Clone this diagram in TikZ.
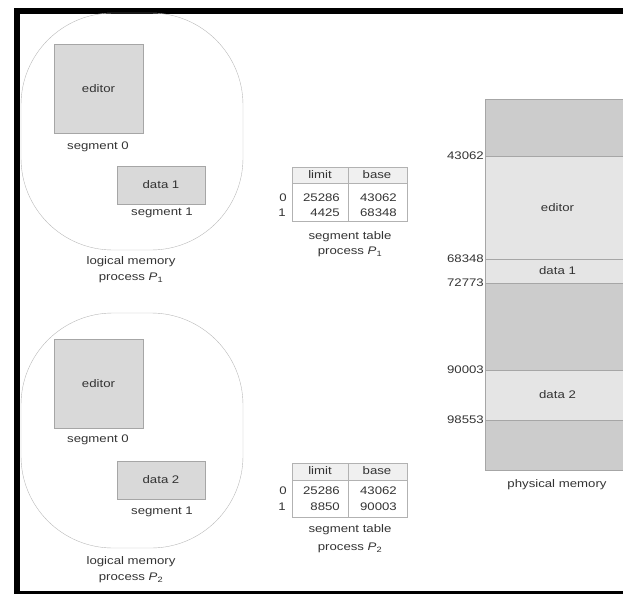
\documentclass[tikz,border=0pt]{standalone}
\usepackage{fontspec}
\setmainfont{Liberation Sans}[FakeStretch=1.2]
\usepackage{tikz}
\usetikzlibrary{positioning}

\tikzset{
  lbl/.style={font=\fontsize{11}{13}\selectfont, text=black!80, inner sep=1pt},
  seg/.style={lbl, draw=gray!70, fill=gray!30, inner sep=0pt},
  blob/.style={draw=gray!55, rounded corners=92pt},
  cell/.style={draw=gray!60},
  freemem/.style={lbl, draw=gray!70, fill=gray!40, minimum width=145, outer sep=0pt},
  usedmem/.style={lbl, draw=gray!70, fill=gray!20, minimum width=145, outer sep=0pt},
}

\begin{document}
\begin{tikzpicture}[x=1pt,y=-1pt]
  \useasboundingbox (0,0) rectangle (623,594);
  % frame
  \fill (14,8) rectangle (623,14);
  \fill (14,8) rectangle (20,594);
  \fill (14,591) rectangle (623,594);

  % process P1
  \draw[blob] (21,13) rectangle (243,250);
  \node[seg, minimum width=89, minimum height=89] (ed1) at (98.5,88.5) {editor};
  \node[lbl] (s01) at (98,147) {segment 0};
  \node[seg, minimum width=88, minimum height=38] (dat1) at (161,185) {data 1};
  \node[lbl] (s11) at (162,213) {segment 1};
  \node[lbl] (lm1) at (131,262) {logical memory};
  \node[lbl] (pr1) at (131,278) {process \textit{P}\textsubscript{1}};

  \fill[gray!12] (292,167) rectangle (407,183);
  \draw[cell] (292,167) rectangle (407,221);
  \draw[cell] (292,183) -- (407,183);
  \draw[cell] (348,167) -- (348,221);
  \node[lbl] (lim1) at (320,175) {limit};
  \node[lbl] (bas1) at (377,175) {base};
  \node[lbl] at (283,198) {0};
  \node[lbl] at (282,213) {1};
  \node[lbl, anchor=east] at (341,198) {25286};
  \node[lbl, anchor=east] at (341,213) {4425};
  \node[lbl, anchor=east] at (398,198) {43062};
  \node[lbl, anchor=east] at (398,213) {68348};
  \node[lbl] (st1) at (350,237) {segment table};
  \node[lbl] (sp1) at (350,252) {process \textit{P}\textsubscript{1}};

  \begin{scope}[shift={(0,298)}]
    % process P2
    \draw[blob] (21,15) rectangle (243,250);
    \node[seg, minimum width=89, minimum height=89] (ed2) at (98.5,85.5) {editor};
    \node[lbl] (s02) at (98,142) {segment 0};
    \node[seg, minimum width=88, minimum height=38] (dat2) at (161,182) {data 2};
    \node[lbl] (s12) at (162,214) {segment 1};
    \node[lbl] (lm2) at (131,264) {logical memory};
    \node[lbl] (pr2) at (131,280) {process \textit{P}\textsubscript{2}};

    \fill[gray!12] (292,165) rectangle (407,182);
    \draw[cell] (292,165) rectangle (407,219);
    \draw[cell] (292,182) -- (407,182);
    \draw[cell] (348,165) -- (348,219);
    \node[lbl] (lim2) at (320,173) {limit};
    \node[lbl] (bas2) at (377,173) {base};
    \node[lbl] at (283,193) {0};
    \node[lbl] at (282,209) {1};
    \node[lbl, anchor=east] at (341,193) {25286};
    \node[lbl, anchor=east] at (341,209) {8850};
    \node[lbl, anchor=east] at (398,193) {43062};
    \node[lbl, anchor=east] at (398,209) {90003};
    \node[lbl] (st2) at (350,232) {segment table};
    \node[lbl] (sp2) at (350,250) {process \textit{P}\textsubscript{2}};
  \end{scope}

  % physical memory
  \node[freemem, minimum height=57, anchor=north west] (hole0) at (485,99) {};
  \node[usedmem, minimum height=103, below=0pt of hole0] (medit) {editor};
  \node[usedmem, minimum height=24, below=0pt of medit] (mdat1) {data 1};
  \node[freemem, minimum height=87, below=0pt of mdat1] (hole1) {};
  \node[usedmem, minimum height=50, below=0pt of hole1] (mdat2) {data 2};
  \node[freemem, minimum height=50, below=0pt of mdat2] (hole2) {};
  \node[lbl] (phys) at (557,485) {physical memory};

  \node[lbl, anchor=east] at (medit.north west) {43062};
  \node[lbl, anchor=east] at (mdat1.north west) {68348};
  \node[lbl, anchor=east] at (hole1.north west) {72773};
  \node[lbl, anchor=east] at (mdat2.north west) {90003};
  \node[lbl, anchor=east] at (hole2.north west) {98553};
\end{tikzpicture}
\end{document}
